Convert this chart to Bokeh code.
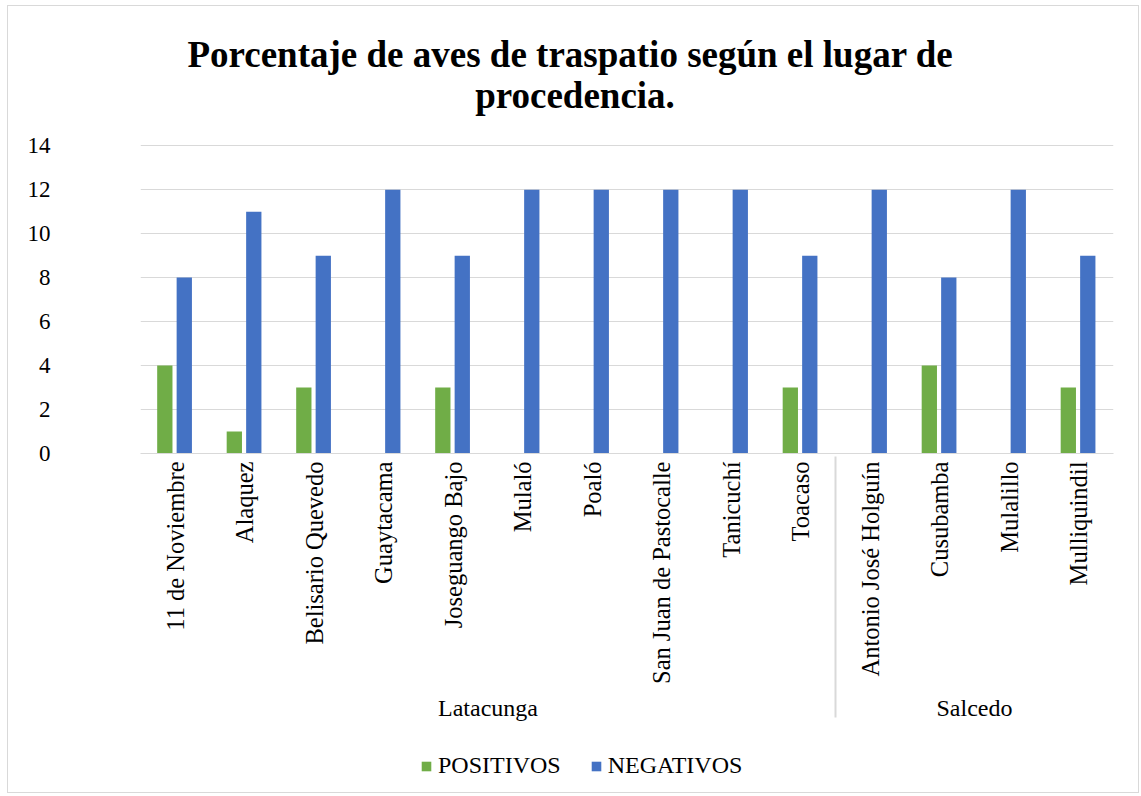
import math
from bokeh.plotting import figure
from bokeh.layouts import column
from bokeh.models import (FactorRange, Range1d, FixedTicker, Legend, LegendItem, Label,
                          ColumnDataSource)
from bokeh.transform import dodge
from bokeh.embed import file_html
from bokeh.resources import INLINE

municipios = ["Latacunga"] * 10 + ["Salcedo"] * 4
parroquias = ["11 de Noviembre", "Alaquez", "Belisario Quevedo", "Guaytacama",
              "Joseguango Bajo", "Mulaló", "Poaló", "San Juan de Pastocalle",
              "Tanicuchí", "Toacaso", "Antonio José Holguín", "Cusubamba",
              "Mulalillo", "Mulliquindil"]
positivos = [4, 1, 3, 0, 3, 0, 0, 0, 0, 3, 0, 4, 0, 3]
negativos = [8, 11, 9, 12, 9, 12, 12, 12, 12, 9, 12, 8, 12, 9]
y_ticks = [0, 2, 4, 6, 8, 10, 12, 14]
series_names = ["POSITIVOS", "NEGATIVOS"]
title_lines = ["Porcentaje  de aves de traspatio según el lugar de", "procedencia."]

FONT = "Liberation Serif"
GREEN = "#70AD47"
BLUE = "#4472C4"
GRID = "#d9d9d9"
W = 1130

factors = list(zip(municipios, parroquias))
src = ColumnDataSource(dict(x=factors, pos=positivos, neg=negativos))
xr = FactorRange(*factors, group_padding=0, factor_padding=0, range_padding=0)

# ---- title strip (frame is aligned with the chart frame; x in page pixels) ----
TH = 119
tf = figure(width=W, height=TH, output_backend="svg", toolbar_location=None,
            x_range=Range1d(140.5, 1113.5), y_range=Range1d(0, TH), min_border=0,
            x_axis_location=None, y_axis_location=None, outline_line_color=None)
tf.grid.visible = False
tf.add_layout(Label(x=575, y=71, text=title_lines[0], text_align="center",
                    text_baseline="alphabetic", text_font=FONT, text_font_size="37px",
                    text_font_style="bold", text_color="black"))
tf.add_layout(Label(x=575, y=30, text=title_lines[1], text_align="center",
                    text_baseline="alphabetic", text_font=FONT, text_font_size="37px",
                    text_font_style="bold", text_color="black"))

# ---- main chart ----
p = figure(width=W, height=617, output_backend="svg", toolbar_location=None,
           x_range=xr, y_range=Range1d(0, 14.1), title=None,
           min_border_left=132, min_border_right=25, min_border_top=18,
           min_border_bottom=289)

r1 = p.vbar(x=dodge("x", -0.15, range=xr), top="pos", width=0.22, source=src,
            fill_color=GREEN, line_color=None)
r2 = p.vbar(x=dodge("x", 0.13, range=xr), top="neg", width=0.22, source=src,
            fill_color=BLUE, line_color=None)

p.outline_line_color = None
p.xgrid.grid_line_color = None
p.ygrid.grid_line_color = GRID
p.ygrid.grid_line_width = 1

p.yaxis.ticker = FixedTicker(ticks=y_ticks)
p.yaxis.axis_line_color = None
p.yaxis.major_tick_line_color = None
p.yaxis.minor_tick_line_color = None
p.yaxis.major_tick_out = 0
p.yaxis.major_tick_in = 0
p.yaxis.major_label_standoff = 90
p.yaxis.major_label_text_font = FONT
p.yaxis.major_label_text_font_size = "23px"
p.yaxis.major_label_text_color = "black"

xa = p.xaxis[0]
xa.axis_line_color = GRID
xa.major_tick_line_color = None
xa.minor_tick_line_color = None
xa.major_tick_out = 0
xa.major_tick_in = 0
xa.major_label_orientation = math.pi / 2
xa.major_label_standoff = 8
xa.major_label_text_font = FONT
xa.major_label_text_font_size = "24.5px"
xa.major_label_text_color = "black"
xa.group_text_font = FONT
xa.group_text_font_size = "24px"
xa.group_text_font_style = "normal"
xa.group_text_color = "black"
xa.separator_line_color = GRID
xa.separator_line_width = 2

# ---- legend strip (bars drawn out of view, used only as legend swatches) ----
lg = figure(width=W, height=50, output_backend="svg", toolbar_location=None,
            x_range=xr, y_range=Range1d(100, 101), min_border=0,
            x_axis_location=None, y_axis_location=None, outline_line_color=None)
lg.grid.visible = False
g1 = lg.vbar(x="x", top="pos", width=0.22, source=src, fill_color=GREEN, line_color=None)
g2 = lg.vbar(x="x", top="neg", width=0.22, source=src, fill_color=BLUE, line_color=None)
legend = Legend(items=[LegendItem(label=series_names[0], renderers=[g1]),
                       LegendItem(label=series_names[1], renderers=[g2])],
                orientation="horizontal", location=(280, 13),
                label_text_font=FONT, label_text_font_size="24px", label_text_color="black",
                glyph_width=12, glyph_height=12, label_standoff=6, spacing=29,
                border_line_color=None, background_fill_alpha=0, padding=0, margin=0)
lg.add_layout(legend, "center")

layout = column(tf, p, lg, spacing=0,
                styles={"border": "1px solid #d9d9d9", "margin-left": "7px", "margin-top": "5px"})
open("out.html", "w").write(file_html(layout, INLINE))
